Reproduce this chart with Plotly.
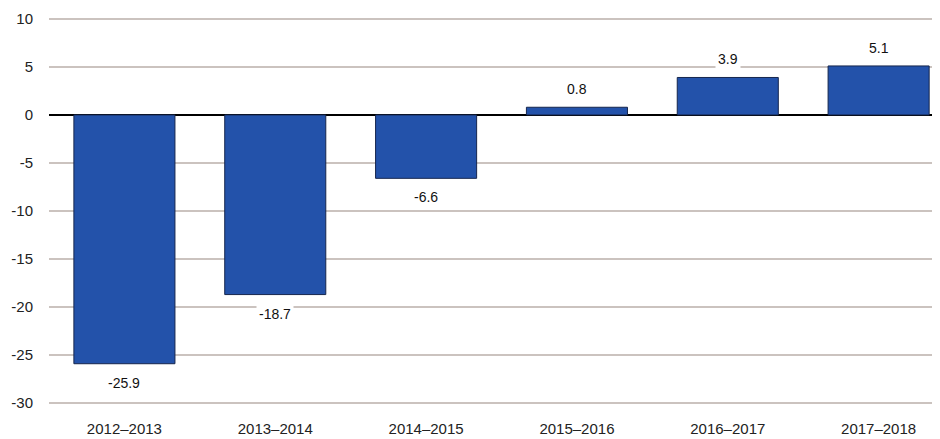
import plotly.graph_objects as go

categories = ["2012–2013", "2013–2014", "2014–2015", "2015–2016", "2016–2017", "2017–2018"]
values = [-25.9, -18.7, -6.6, 0.8, 3.9, 5.1]
labels = ["-25.9", "-18.7", "-6.6", "0.8", "3.9", "5.1"]
y_ticks = [10, 5, 0, -5, -10, -15, -20, -25, -30]

fig = go.Figure()
fig.add_trace(go.Bar(
    x=categories, y=values,
    marker=dict(color="#2352aa", line=dict(color="#16264d", width=1)),
    hoverinfo="skip",
))

for c, v, t in zip(categories, values, labels):
    fig.add_annotation(
        x=c, y=v, text=t, showarrow=False,
        yshift=18 if v > 0 else -19,
        bgcolor="white", borderpad=2,
        font=dict(family="Liberation Sans, Arial, sans-serif", size=14, color="#111"),
    )

# the page body adds an 8px offset, so margins are reduced by 8px
fig.update_layout(
    width=940, height=439,
    margin=dict(l=41, r=0, t=8, b=41),
    paper_bgcolor="white", plot_bgcolor="white",
    bargap=0.33, showlegend=False,
    font=dict(family="Liberation Sans, Arial, sans-serif", size=15, color="#222"),
)
fig.update_xaxes(
    type="category", range=[-0.5, 5.46], showgrid=False, zeroline=False,
    showline=False, ticks="outside", ticklen=9, tickcolor="rgba(0,0,0,0)",
    tickfont=dict(size=15),
)
fig.update_yaxes(
    range=[-30.3, 10.3], tickvals=y_ticks, ticktext=[str(v) for v in y_ticks],
    showgrid=True, gridcolor="#cbc3bf", gridwidth=1.5,
    zeroline=True, zerolinecolor="#000", zerolinewidth=2,
    showline=False, ticks="outside", ticklen=12, tickcolor="rgba(0,0,0,0)",
    tickfont=dict(size=15),
)

fig.write_html("out.html")
